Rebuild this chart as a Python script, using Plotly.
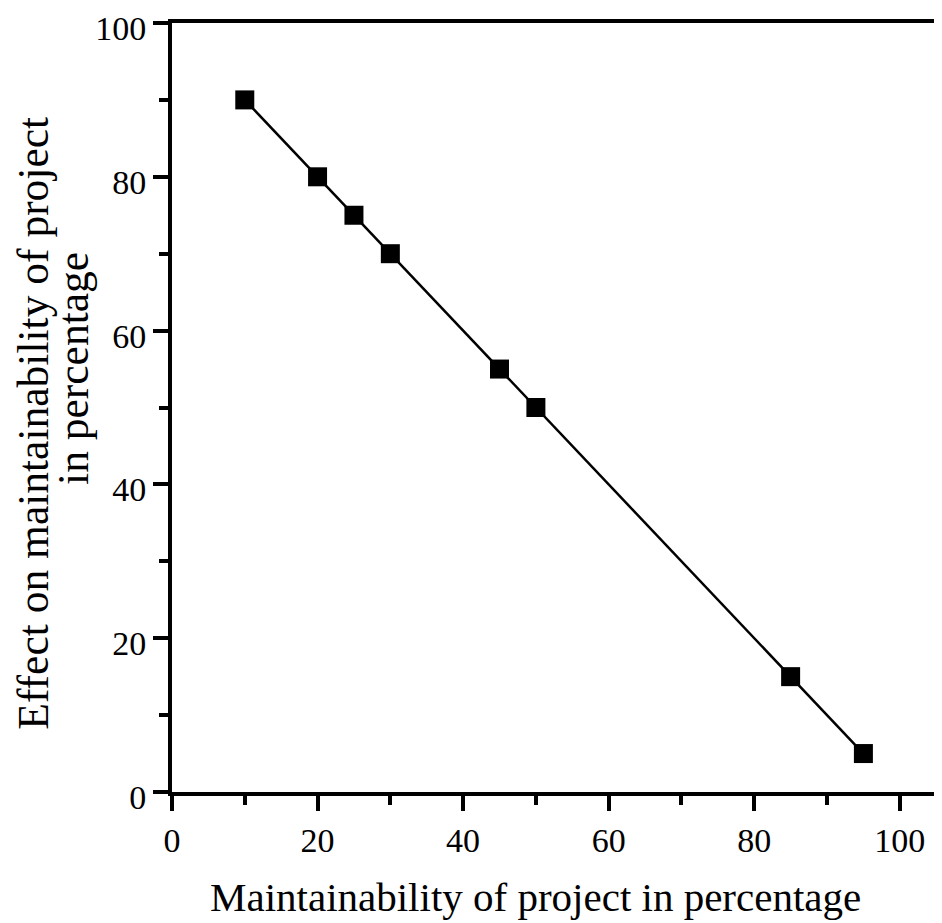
import plotly.graph_objects as go

maintainability = [10, 20, 25, 30, 45, 50, 85, 95]
effect = [90, 80, 75, 70, 55, 50, 15, 5]
x_ticks = [0, 20, 40, 60, 80, 100]
y_ticks = [0, 20, 40, 60, 80, 100]
x_title = "Maintainability of project in percentage"
y_title_lines = ["Effect on maintainability of project", "in percentage"]

font_family = "Liberation Serif, Times New Roman, serif"

fig = go.Figure()
fig.add_trace(go.Scatter(
    x=maintainability, y=effect, mode="lines+markers",
    line=dict(color="black", width=2.5),
    marker=dict(symbol="square", size=19, color="black"),
    showlegend=False,
))

axis_common = dict(
    showgrid=False, zeroline=False, showline=True, linecolor="black", linewidth=4,
    ticks="outside", ticklen=15, tickwidth=4, tickcolor="black",
    tickfont=dict(family=font_family, size=34, color="black"),
    ticklabeloverflow="allow", automargin=False,
    minor=dict(ticks="outside", ticklen=9, tickwidth=4, tickcolor="black", dtick=10),
)

fig.update_xaxes(range=[0, 105.8], tickvals=x_ticks, mirror=True, **axis_common)
fig.update_yaxes(range=[0, 100], tickvals=y_ticks, ticklabelshift=5, **axis_common)

fig.add_annotation(
    text=x_title, xref="x", yref="paper", x=50, y=-0.1365,
    xanchor="center", yanchor="middle", showarrow=False,
    font=dict(family=font_family, size=41, color="black"),
)
fig.add_annotation(
    text=y_title_lines[0], xref="paper", yref="paper", x=-0.181, y=0.4798,
    xanchor="center", yanchor="middle", textangle=-90, showarrow=False,
    font=dict(family=font_family, size=43.5, color="black"),
)
fig.add_annotation(
    text=y_title_lines[1], xref="paper", yref="paper", x=-0.1286, y=0.5514,
    xanchor="center", yanchor="middle", textangle=-90, showarrow=False,
    font=dict(family=font_family, size=43.5, color="black"),
)

fig.update_layout(
    width=942, height=923,
    margin=dict(l=164, r=8, t=15, b=139, autoexpand=False),
    plot_bgcolor="white", paper_bgcolor="white",
)

fig.write_html("out.html")
